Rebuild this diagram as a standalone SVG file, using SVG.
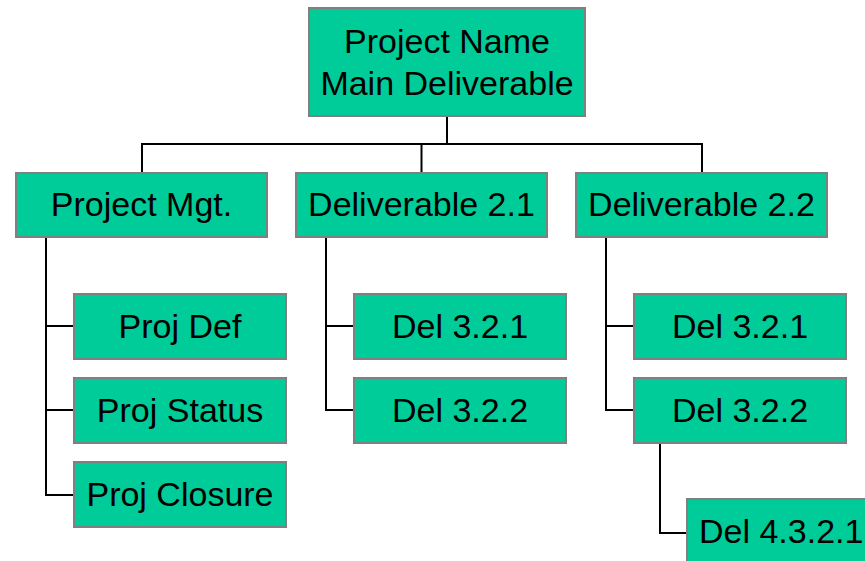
<svg xmlns="http://www.w3.org/2000/svg" width="865" height="561" viewBox="0 0 865 561">
  <style>
    .box { fill: #00CC99; stroke: #808080; stroke-width: 2; }
    .lbl { font-family: "Liberation Sans", Arial, sans-serif; font-size: 34px; fill: #000; text-anchor: middle; }
    .wire { fill: none; stroke: #000; stroke-width: 2; }
  </style>
  <rect width="865" height="561" fill="#fff"/>

  <!-- connectors -->
  <g id="connectors" class="wire">
    <path d="M447,116 V144"/>
    <path d="M142,173 V144 H702 V173"/>
    <path d="M421.5,144 V173"/>
    <path d="M46,237 V495 H74 M46,326 H74 M46,410 H74"/>
    <path d="M326,237 V410 H354 M326,326 H354"/>
    <path d="M606,237 V410 H634 M606,326 H634"/>
    <path d="M660,443 V533 H687"/>
  </g>

  <g id="root">
    <rect class="box" x="309" y="8" width="276" height="108"/>
    <text class="lbl" x="447" y="53">Project Name</text>
    <text class="lbl" x="447" y="95">Main Deliverable</text>
  </g>

  <g id="project-mgt">
    <rect class="box" x="16" y="173" width="251" height="64"/>
    <text class="lbl" x="141.5" y="216">Project Mgt.</text>
  </g>
  <g id="deliverable-2-1">
    <rect class="box" x="296" y="173" width="251" height="64"/>
    <text class="lbl" x="421.5" y="216">Deliverable 2.1</text>
  </g>
  <g id="deliverable-2-2">
    <rect class="box" x="576" y="173" width="251" height="64"/>
    <text class="lbl" x="701.5" y="216">Deliverable 2.2</text>
  </g>

  <g id="proj-def">
    <rect class="box" x="74" y="294" width="212" height="65"/>
    <text class="lbl" x="180" y="338">Proj Def</text>
  </g>
  <g id="proj-status">
    <rect class="box" x="74" y="378" width="212" height="65"/>
    <text class="lbl" x="180" y="422">Proj Status</text>
  </g>
  <g id="proj-closure">
    <rect class="box" x="74" y="462" width="212" height="65"/>
    <text class="lbl" x="180" y="506">Proj Closure</text>
  </g>

  <g id="del-2-1-a">
    <rect class="box" x="354" y="294" width="212" height="65"/>
    <text class="lbl" x="460" y="338">Del 3.2.1</text>
  </g>
  <g id="del-2-1-b">
    <rect class="box" x="354" y="378" width="212" height="65"/>
    <text class="lbl" x="460" y="422">Del 3.2.2</text>
  </g>

  <g id="del-2-2-a">
    <rect class="box" x="634" y="294" width="212" height="65"/>
    <text class="lbl" x="740" y="338">Del 3.2.1</text>
  </g>
  <g id="del-2-2-b">
    <rect class="box" x="634" y="378" width="212" height="65"/>
    <text class="lbl" x="740" y="422">Del 3.2.2</text>
  </g>

  <g id="del-4-3-2-1">
    <rect class="box" x="687" y="499" width="212" height="66"/>
    <text class="lbl" x="699" y="543" style="text-anchor:start">Del 4.3.2.1</text>
  </g>
</svg>
